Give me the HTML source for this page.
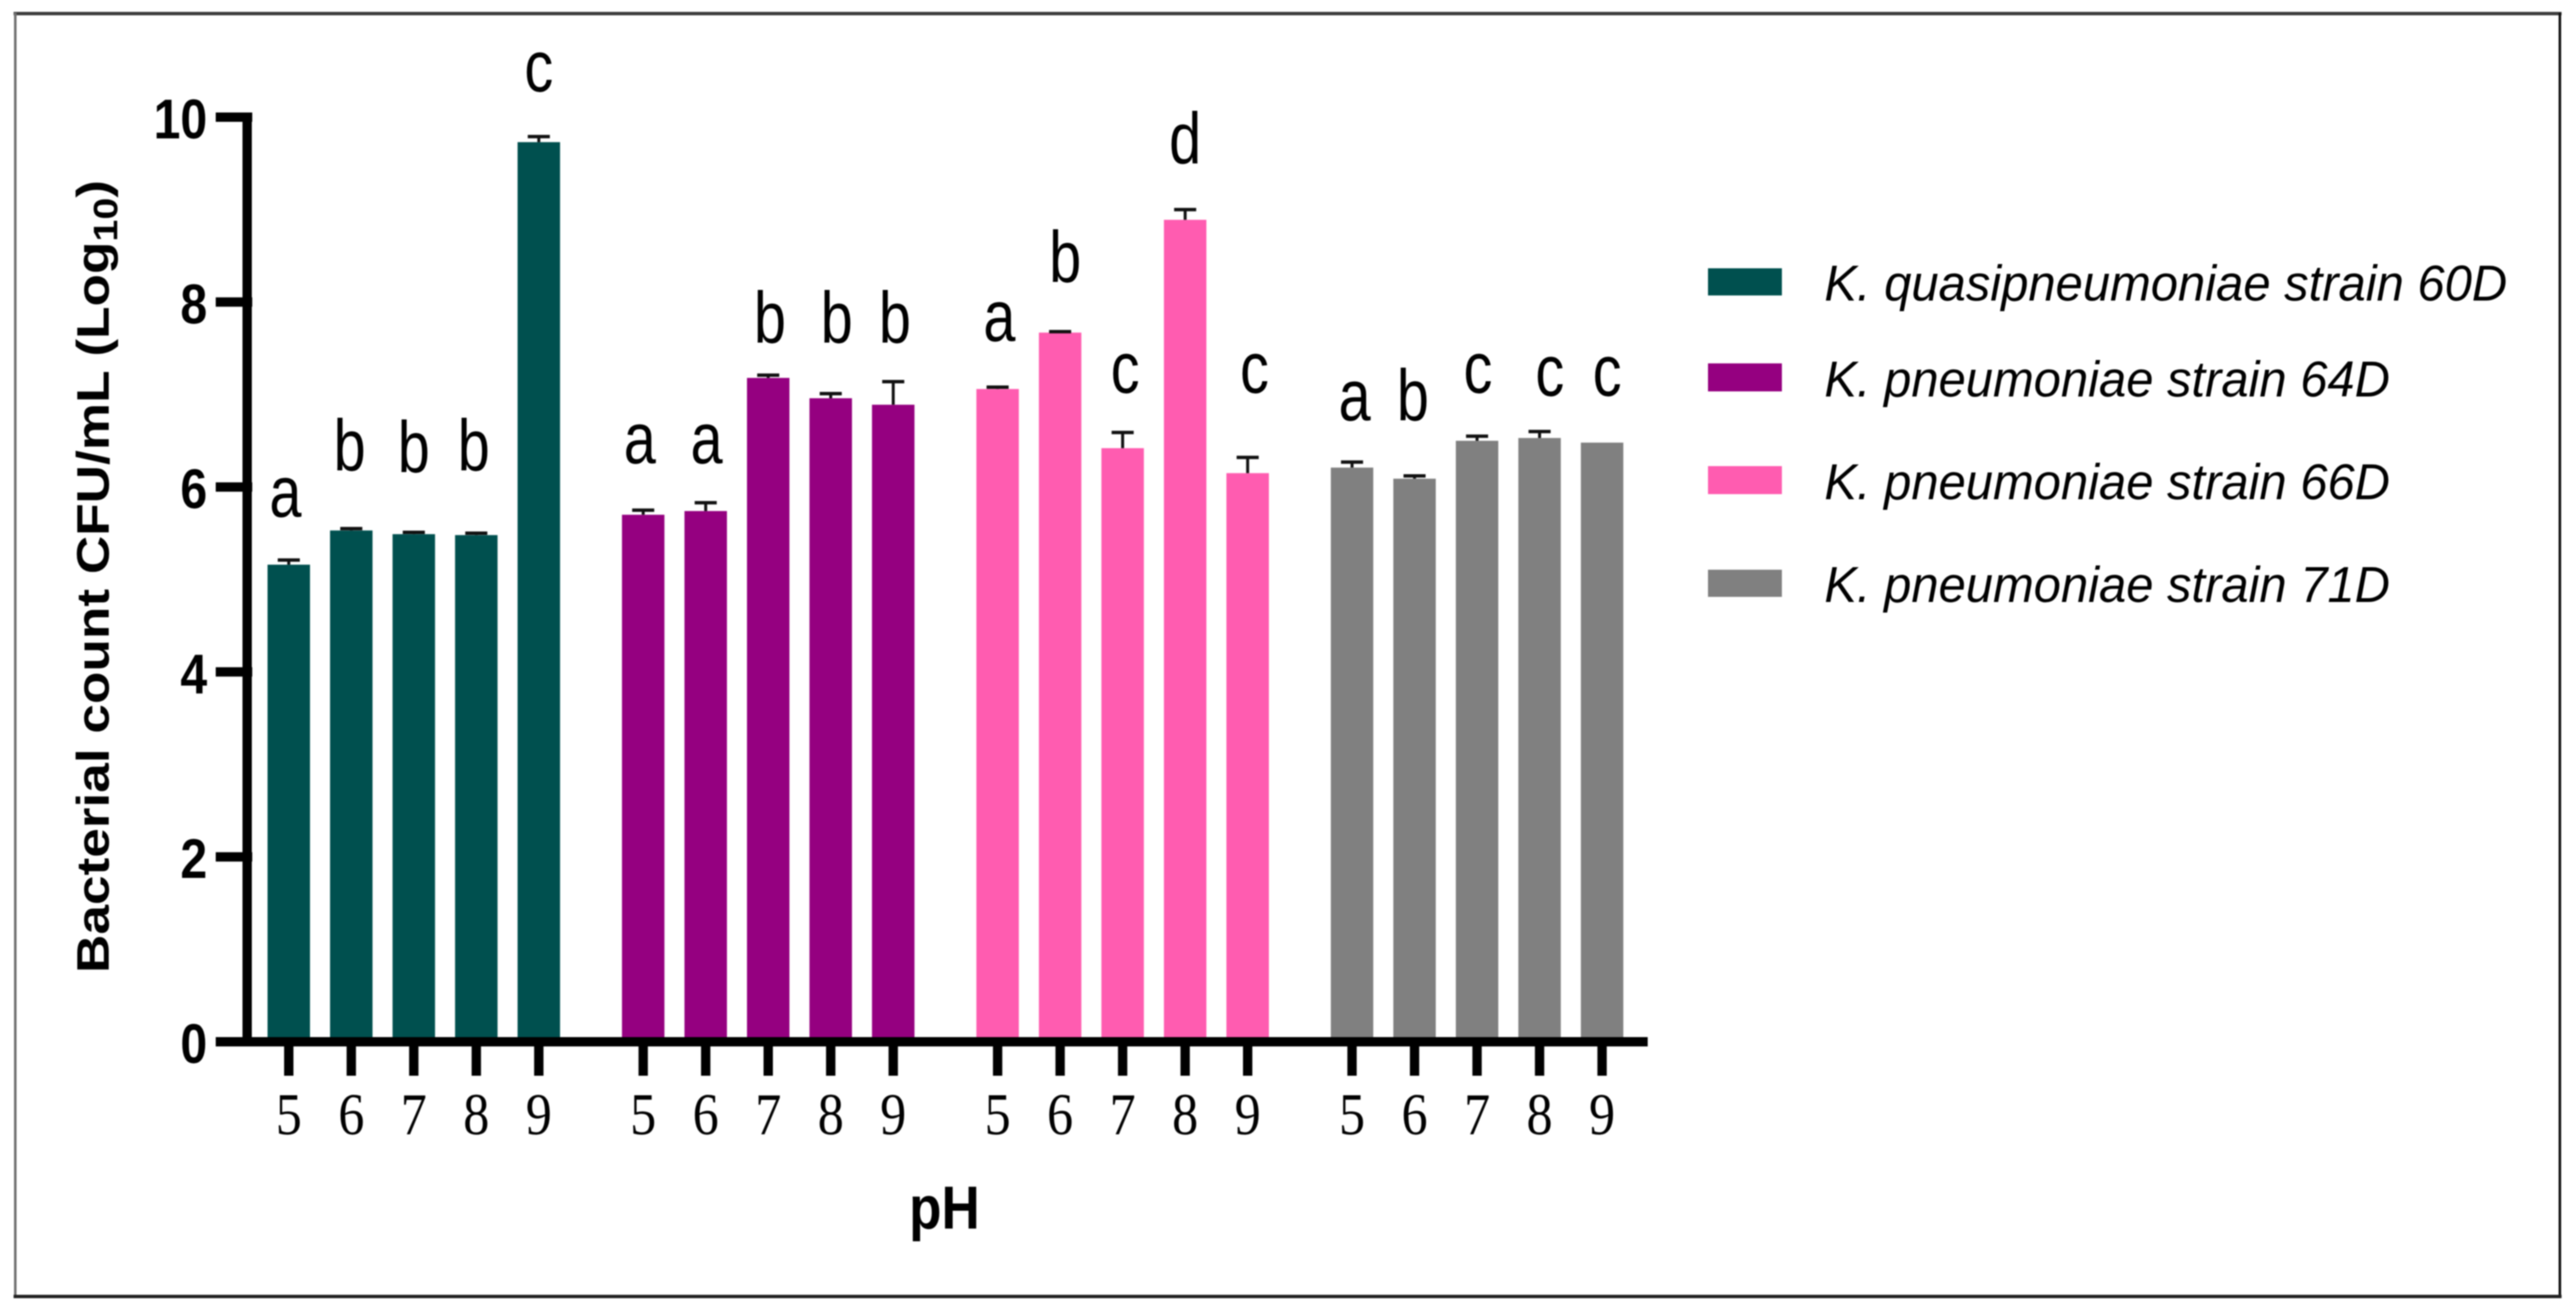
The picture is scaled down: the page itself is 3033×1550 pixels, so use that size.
<!DOCTYPE html>
<html lang="en">
<head>
<meta charset="utf-8">
<title>Bacterial count by pH</title>
<style>
html,body{margin:0;padding:0;background:#fff;width:3033px;height:1550px;overflow:hidden}
svg{position:absolute;left:0;top:0;filter:blur(0.9px)}
text{fill:#000}
</style>
</head>
<body>
<svg id="chart" xmlns="http://www.w3.org/2000/svg" width="3033" height="1550" viewBox="0 0 3033 1550">
  <rect x="0" y="0" width="3033" height="1550" fill="#fff"/>
  <g>
    <line x1="16" y1="16" x2="3016" y2="16" stroke="#3c3c3c" stroke-width="4"/>
    <line x1="18" y1="15" x2="18" y2="1528" stroke="#707070" stroke-width="3"/>
    <line x1="3014" y1="15" x2="3014" y2="1528" stroke="#111" stroke-width="3"/>
    <line x1="16" y1="1527" x2="3016" y2="1527" stroke="#222" stroke-width="4"/>
  </g>
  <g id="bars"></g>
  <g id="axes"></g>
  <text transform="translate(128,1146) rotate(-90)" font-family="'Liberation Sans',sans-serif" font-weight="700" font-size="54" textLength="934" lengthAdjust="spacingAndGlyphs">Bacterial count CFU/mL (Log<tspan font-size="40" dy="10">10</tspan><tspan dy="-10">)</tspan></text>
  <text transform="translate(1112,1447) scale(0.88,1)" text-anchor="middle" font-family="'Liberation Sans',sans-serif" font-weight="700" font-size="71">pH</text>
  <g font-family="'Liberation Sans',sans-serif" font-style="italic" font-size="59">
    <g>
      <rect x="2011" y="316" width="87" height="32" fill="#00504f"/>
      <text x="2148" y="354" textLength="804" lengthAdjust="spacingAndGlyphs">K. quasipneumoniae strain 60D</text>
    </g>
    <g>
      <rect x="2011" y="428" width="87" height="33" fill="#950080"/>
      <text x="2148" y="467" textLength="666" lengthAdjust="spacingAndGlyphs">K. pneumoniae strain 64D</text>
    </g>
    <g>
      <rect x="2011" y="549" width="87" height="33" fill="#ff5cb0"/>
      <text x="2148" y="588" textLength="666" lengthAdjust="spacingAndGlyphs">K. pneumoniae strain 66D</text>
    </g>
    <g>
      <rect x="2011" y="671" width="87" height="32" fill="#808080"/>
      <text x="2148" y="709" textLength="666" lengthAdjust="spacingAndGlyphs">K. pneumoniae strain 71D</text>
    </g>
  </g>
</svg>
<script>
const strains = ['60D', '64D', '66D', '71D'];
const phLevels = ['5', '6', '7', '8', '9'];
const yTicks = [0, 2, 4, 6, 8, 10];
const means60D = [5.16, 5.53, 5.49, 5.48, 9.73];
const means64D = [5.70, 5.74, 7.18, 6.96, 6.89];
const means66D = [7.06, 7.67, 6.42, 8.89, 6.15];
const means71D = [6.21, 6.09, 6.50, 6.53, 6.48];
const errors60D = [0.05, 0.02, 0.02, 0.02, 0.06];
const errors64D = [0.05, 0.09, 0.03, 0.05, 0.25];
const errors66D = [0.02, 0.01, 0.17, 0.11, 0.17];
const errors71D = [0.06, 0.03, 0.05, 0.07, 0];
const letters60D = ['a', 'b', 'b', 'b', 'c'];
const letters64D = ['a', 'a', 'b', 'b', 'b'];
const letters66D = ['a', 'b', 'c', 'd', 'c'];
const letters71D = ['a', 'b', 'c', 'c', 'c'];
const letterLevels60D = [5.68, 6.18, 6.16, 6.18, 10.28];
const letterLevels64D = [6.26, 6.26, 7.56, 7.56, 7.56];
const letterLevels66D = [7.58, 8.22, 7.02, 9.50, 7.02];
const letterLevels71D = [6.72, 6.72, 7.02, 6.99, 6.99];

const NS = 'http://www.w3.org/2000/svg';
const barColors = ['#00504f', '#950080', '#ff5cb0', '#808080'];
const allMeans = [means60D, means64D, means66D, means71D];
const allErrors = [errors60D, errors64D, errors66D, errors71D];
const allLetters = [letters60D, letters64D, letters66D, letters71D];
const allLevels = [letterLevels60D, letterLevels64D, letterLevels66D, letterLevels71D];

function yScale(v) { return 1227 - v * 108.9; }
function xScale(g, i) { return 340 + g * 417.3 + i * 73.6; }
function make(tag, attrs, parent) {
  const el = document.createElementNS(NS, tag);
  for (const k in attrs) el.setAttribute(k, attrs[k]);
  parent.appendChild(el);
  return el;
}

function draw() {
  const barsLayer = document.getElementById('bars');
  const axesLayer = document.getElementById('axes');
  const nudges = [[-4, -2, 0, -3, 0], [-4, 1, 2, 7, 2], [2, 6, 3, 0, 8], [3, -2, 1, 12, 6]];
  const barWidth = 50;
  strains.forEach(function (strain, g) {
    phLevels.forEach(function (ph, i) {
      const cx = xScale(g, i);
      const top = yScale(allMeans[g][i]);
      const errTop = yScale(allMeans[g][i] + allErrors[g][i]);
      const bar = make('rect', { x: cx - barWidth / 2, y: top, width: barWidth, height: yScale(0) - top, fill: barColors[g] }, barsLayer);
      
      
      if (allErrors[g][i] > 0) {
        const stem = make('line', { x1: cx, x2: cx, y1: top, y2: errTop, stroke: '#111', 'stroke-width': 3.5 }, barsLayer);
        
        
        const cap = make('line', { x1: cx - 13, x2: cx + 13, y1: errTop, y2: errTop, stroke: '#111', 'stroke-width': 4 }, barsLayer);
        
        
      }
      const lx = cx + nudges[g][i];
      const ly = yScale(allLevels[g][i]);
      const letter = make('text', { transform: 'translate(' + lx + ',' + ly + ') scale(0.8,1)', 'text-anchor': 'middle', 'font-family': "'Liberation Sans',sans-serif", 'font-size': 85 }, barsLayer);
      letter.textContent = allLetters[g][i];
      
      
      const tick = make('line', { x1: cx, x2: cx, y1: 1227, y2: 1267, stroke: '#000', 'stroke-width': 11 }, axesLayer);
      
      
      const label = make('text', { transform: 'translate(' + cx + ',1336) scale(0.88,1)', 'text-anchor': 'middle', 'font-family': "'Liberation Serif',serif", 'font-size': 70 }, axesLayer);
      label.textContent = ph;
      
      
    });
  });
  yTicks.forEach(function (t) {
    const y = yScale(t);
    const tick = make('line', { x1: 254, x2: 297, y1: y, y2: y, stroke: '#000', 'stroke-width': 11 }, axesLayer);
    
    
    const label = make('text', { transform: 'translate(244,' + (y + 25) + ') scale(0.86,1)', 'text-anchor': 'end', 'font-family': "'Liberation Sans',sans-serif", 'font-weight': 700, 'font-size': 66 }, axesLayer);
    label.textContent = String(t);
    
    
  });
  const yAxis = make('line', { x1: 291, x2: 291, y1: yScale(10) - 5.5, y2: 1232, stroke: '#000', 'stroke-width': 11 }, axesLayer);
  
  
  const xAxis = make('line', { x1: 254, x2: 1940, y1: 1227, y2: 1227, stroke: '#000', 'stroke-width': 11 }, axesLayer);
  
  
}
draw();
</script>
</body>
</html>
